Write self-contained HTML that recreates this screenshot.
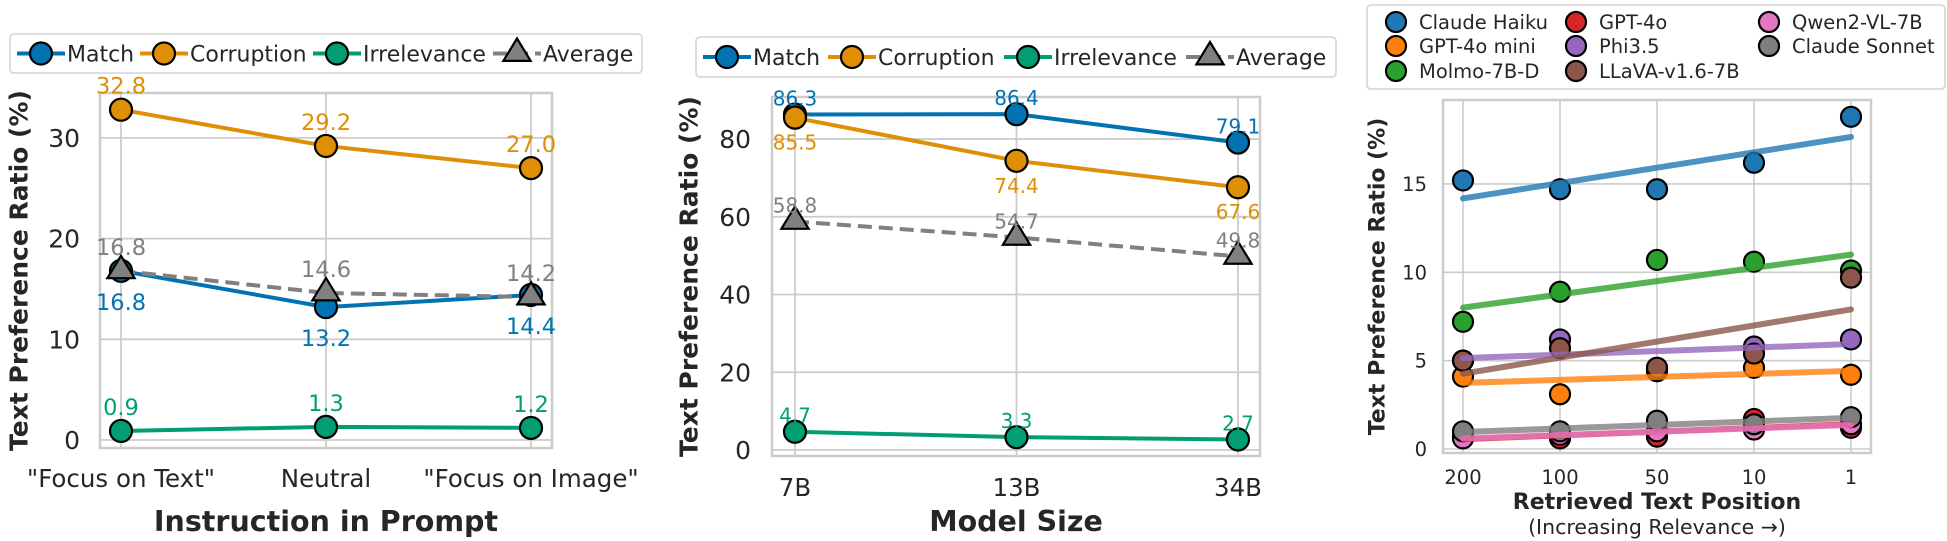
<!DOCTYPE html>
<html><head><meta charset="utf-8">
<style>
html,body{margin:0;padding:0;background:#fff;}
svg{display:block;font-family:"DejaVu Sans","Liberation Sans",sans-serif;}
</style></head>
<body>
<svg id="c" width="1947" height="541" viewBox="0 0 1947 541" xmlns="http://www.w3.org/2000/svg"></svg>
<script>
// ---- Chart 1 data ----
const c1Categories = ['"Focus on Text"', 'Neutral', '"Focus on Image"'];
const c1Match = [16.8, 13.2, 14.4];
const c1Corruption = [32.8, 29.2, 27.0];
const c1Irrelevance = [0.9, 1.3, 1.2];
const c1Average = [16.8, 14.6, 14.2];
const c1Ticks = [0, 10, 20, 30];
// ---- Chart 2 data ----
const c2Categories = ['7B', '13B', '34B'];
const c2Match = [86.3, 86.4, 79.1];
const c2Corruption = [85.5, 74.4, 67.6];
const c2Irrelevance = [4.7, 3.3, 2.7];
const c2Average = [58.8, 54.7, 49.8];
const c2Ticks = [0, 20, 40, 60, 80];
// ---- Chart 3 data ----
const c3Categories = ['200', '100', '50', '10', '1'];
const c3Ticks = [0, 5, 10, 15];
const c3Models = ['Claude Haiku','GPT-4o mini','Molmo-7B-D','GPT-4o','Phi3.5','LLaVA-v1.6-7B','Qwen2-VL-7B','Claude Sonnet'];
const c3Haiku = [15.2, 14.7, 14.7, 16.2, 18.8];
const c3Gpt4oMini = [4.1, 3.1, 4.4, 4.6, 4.2];
const c3Molmo = [7.2, 8.9, 10.7, 10.6, 10.1];
const c3Gpt4o = [0.7, 0.6, 0.7, 1.7, 1.2];
const c3Phi = [5.0, 6.2, 4.5, 5.8, 6.2];
const c3Llava = [5.0, 5.7, 4.6, 5.4, 9.7];
const c3Qwen = [0.6, 0.8, 1.0, 1.1, 1.4];
const c3Sonnet = [1.0, 1.0, 1.6, 1.4, 1.8];

const NS = 'http://www.w3.org/2000/svg';
const svg = document.getElementById('c');
function mk(tag, attrs, parent, text) {
  const e = document.createElementNS(NS, tag);
  for (const k in attrs) e.setAttribute(k, attrs[k]);
  if (text !== undefined) e.textContent = text;
  (parent || svg).appendChild(e);
  return e;
}
const GRID = '#cccccc', TXT = '#262626';
const COL = {blue:'#0173b2', orange:'#de8f05', green:'#029e73', gray:'#808080'};

function frame(g, L, R, T, B) {
  const r = mk('rect', {x:L, y:T, width:R-L, height:B-T, fill:'none', stroke:GRID, 'stroke-width':2.5}, g);
  
  
}
function circle(g, x, y, r, fill, name) {
  const c = mk('circle', {cx:x, cy:y, r:r, fill:fill, stroke:'#000', 'stroke-width':2.2}, g);
  
  
  return c;
}
function tri(g, x, y, s, name) {
  const p = mk('polygon', {points:`${x},${y-s} ${x-s*1.05},${y+s*0.72} ${x+s*1.05},${y+s*0.72}`, fill:'#808080', stroke:'#000', 'stroke-width':2.2}, g);
  
  
}

// Generic line chart for charts 1 & 2
function lineChart(o) {
  const g = mk('g', {});
  
  
  const yS = v => o.y0 - (v - 0) * o.ppu;
  const xS = i => o.xs[0] + i * (o.xs[1] - o.xs[0]);
  // gridlines
  o.ticks.forEach(t => {
    const l = mk('line', {x1:o.L, x2:o.R, y1:yS(t), y2:yS(t), stroke:GRID, 'stroke-width':1.8}, g);
    
    
    const tx = mk('text', {x:o.tickX, y:yS(t)+9, 'text-anchor':'end', 'font-size':25, fill:TXT}, g, String(t));
    
    
  });
  o.cats.forEach((c, i) => {
    const l = mk('line', {x1:xS(i), x2:xS(i), y1:o.T, y2:o.B, stroke:GRID, 'stroke-width':1.8}, g);
    
    
    const tx = mk('text', {x:xS(i), y:o.xLabY, 'text-anchor':'middle', 'font-size':24.5, fill:TXT}, g, c);
    
    
  });
  frame(g, o.L, o.R, o.T, o.B);
  // series
  o.series.forEach(s => {
    const pts = s.vals.map((v, i) => `${xS(i)},${yS(v)}`).join(' ');
    const pl = mk('polyline', {points:pts, fill:'none', stroke:s.color, 'stroke-width':4, 'stroke-dasharray':s.dash||'none'}, g);
    
    
  });
  o.series.forEach(s => {
    s.vals.forEach((v, i) => {
      if (s.tri) tri(g, xS(i), yS(v)-2, 13, s.key + '-marker');
      else circle(g, xS(i), yS(v), 11, s.color, s.key + '-marker');
      const ly = s.below ? yS(v) + o.lblOff + 16 : yS(v) - o.lblOff + 7;
      const t = mk('text', {x:xS(i), y:ly, 'text-anchor':'middle', 'font-size':o.lblSize, fill:s.color}, g, v.toFixed(1));
      
      
    });
  });
  // axis titles
  const yt = mk('text', {x:0, y:0, transform:`translate(${o.yTitleX},${(o.T+o.B)/2}) rotate(-90)`, 'text-anchor':'middle', 'dominant-baseline':'central', 'font-size':25, 'font-weight':'bold', fill:TXT}, g, 'Text Preference Ratio (%)');
  
  
  const xt = mk('text', {x:(o.L+o.R)/2, y:531, 'text-anchor':'middle', 'font-size':28.5, 'font-weight':'bold', fill:TXT}, g, o.xTitle);
  
  
  // legend
  const lg = mk('g', {}, g);
  
  
  const lb = mk('rect', {x:o.leg.x, y:o.leg.y, width:o.leg.w, height:o.leg.h, rx:4, fill:'#fff', stroke:'#d9d9d9', 'stroke-width':1.8}, lg);
  
  
  const cy = o.leg.y + o.leg.h/2;
  o.series.forEach((s, k) => {
    const mx = o.leg.mx[k];
    const ln = mk('line', {x1:mx-24, x2:mx+24, y1:cy, y2:cy, stroke:s.color, 'stroke-width':4, 'stroke-dasharray':s.dash||'none'}, lg);
    
    
    if (s.tri) tri(lg, mx, cy-2, 13, 'legend-marker');
    else circle(lg, mx, cy, 11, s.color, 'legend-marker');
    const t = mk('text', {x:mx+26, y:cy+8, 'font-size':22, fill:TXT}, lg, s.label);
    
    
  });
}

lineChart({
  name:'chart-instruction', L:100, R:552, T:93, B:448, y0:440, ppu:10.07, xs:[121, 326],
  ticks:c1Ticks, cats:c1Categories, tickX:80, xLabY:487, lblOff:23, lblSize:22.5, yTitleX:19,
  xTitle:'Instruction in Prompt',
  series:[
    {key:'match', label:'Match', vals:c1Match, color:COL.blue, below:true},
    {key:'corruption', label:'Corruption', vals:c1Corruption, color:COL.orange},
    {key:'irrelevance', label:'Irrelevance', vals:c1Irrelevance, color:COL.green},
    {key:'average', label:'Average', vals:c1Average, color:COL.gray, dash:'14 7', tri:true}
  ],
  leg:{x:10, y:34, w:632, h:39, mx:[41, 164, 337, 517]}
});
lineChart({
  name:'chart-model-size', L:772, R:1260, T:97, B:456, y0:450, ppu:3.887, xs:[795, 1016.5],
  ticks:c2Ticks, cats:c2Categories, tickX:751, xLabY:496, lblOff:16, lblSize:20, yTitleX:689,
  xTitle:'Model Size',
  series:[
    {key:'match', label:'Match', vals:c2Match, color:COL.blue},
    {key:'corruption', label:'Corruption', vals:c2Corruption, color:COL.orange, below:true},
    {key:'irrelevance', label:'Irrelevance', vals:c2Irrelevance, color:COL.green},
    {key:'average', label:'Average', vals:c2Average, color:COL.gray, dash:'14 7', tri:true}
  ],
  leg:{x:696, y:37, w:640, h:40, mx:[727, 852, 1028, 1210]}
});

// ---- Chart 3 ----
(function(){
  const g = mk('g', {});
  
  
  const L = 1443, R = 1871, T = 100, B = 453;
  const yS = v => 449 - v * 17.67;
  const xS = i => 1463 + i * 97;
  c3Ticks.forEach(t => {
    const l = mk('line', {x1:L, x2:R, y1:yS(t), y2:yS(t), stroke:GRID, 'stroke-width':1.6}, g);
    
    
    const tx = mk('text', {x:1427, y:yS(t)+7, 'text-anchor':'end', 'font-size':19.5, fill:TXT}, g, String(t));
    
    
  });
  c3Categories.forEach((c, i) => {
    const l = mk('line', {x1:xS(i), x2:xS(i), y1:T, y2:B, stroke:GRID, 'stroke-width':1.6}, g);
    
    
    const tx = mk('text', {x:xS(i), y:484, 'text-anchor':'middle', 'font-size':19.5, fill:TXT}, g, c);
    
    
  });
  frame(g, L, R, T, B);
  const series = [
    {key:'claude-haiku', vals:c3Haiku, color:'#1f77b4'},
    {key:'gpt-4o-mini', vals:c3Gpt4oMini, color:'#ff7f0e'},
    {key:'molmo-7b-d', vals:c3Molmo, color:'#2ca02c'},
    {key:'gpt-4o', vals:c3Gpt4o, color:'#d62728'},
    {key:'phi3-5', vals:c3Phi, color:'#9467bd'},
    {key:'llava', vals:c3Llava, color:'#8c564b'},
    {key:'qwen2-vl-7b', vals:c3Qwen, color:'#e377c2'},
    {key:'claude-sonnet', vals:c3Sonnet, color:'#7f7f7f'}
  ];
  series.forEach(s => {
    s.vals.forEach((v, i) => circle(g, xS(i), yS(v), 10, s.color, s.key + '-point'));
  });
  series.forEach(s => {
    const n = s.vals.length, xm = (n-1)/2;
    const ym = s.vals.reduce((a,b)=>a+b,0)/n;
    let num = 0, den = 0;
    s.vals.forEach((v,i)=>{num += (i-xm)*(v-ym); den += (i-xm)*(i-xm);});
    const b = num/den, a = ym - b*xm;
    const l = mk('line', {x1:xS(0), y1:yS(a), x2:xS(n-1), y2:yS(a+b*(n-1)), stroke:s.color, 'stroke-width':6, 'stroke-opacity':0.8, 'stroke-linecap':'round'}, g);
    
    
  });
  const yt = mk('text', {x:0, y:0, transform:`translate(1378,${(T+B)/2}) rotate(-90)`, 'text-anchor':'middle', 'dominant-baseline':'central', 'font-size':22, 'font-weight':'bold', fill:TXT}, g, 'Text Preference Ratio (%)');
  
  
  const xt = mk('text', {x:1657, y:509, 'text-anchor':'middle', 'font-size':22, 'font-weight':'bold', fill:TXT}, g, 'Retrieved Text Position');
  
  
  const xs = mk('text', {x:1657, y:534, 'text-anchor':'middle', 'font-size':20.5, fill:TXT}, g, '(Increasing Relevance \u2192)');
  
  
  // legend
  const lg = mk('g', {}, g);
  
  
  const lb = mk('rect', {x:1367, y:5, width:578, height:84, rx:4, fill:'#fff', stroke:'#d9d9d9', 'stroke-width':1.8}, lg);
  
  
  const colX = [1396, 1576, 1769], rowY = [22, 46, 71];
  c3Models.forEach((m, k) => {
    const col = Math.floor(k/3), row = k%3;
    circle(lg, colX[col], rowY[row], 10, series[k].color, 'legend-marker');
    const t = mk('text', {x:colX[col]+23, y:rowY[row]+7, 'font-size':19.5, fill:TXT}, lg, m);
    
    
  });
})();
</script>
</body></html>
